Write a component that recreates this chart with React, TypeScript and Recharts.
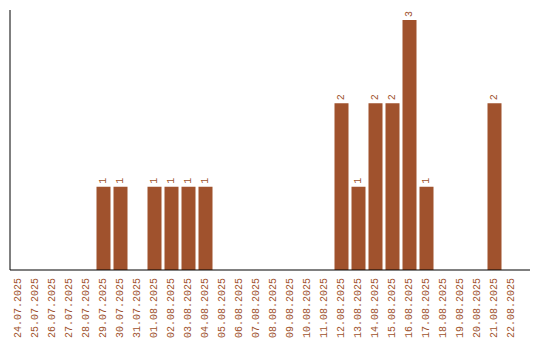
import { BarChart, Bar, XAxis, YAxis, LabelList } from 'recharts';

const dates = [
  '24.07.2025', '25.07.2025', '26.07.2025', '27.07.2025', '28.07.2025', '29.07.2025',
  '30.07.2025', '31.07.2025', '01.08.2025', '02.08.2025', '03.08.2025', '04.08.2025',
  '05.08.2025', '06.08.2025', '07.08.2025', '08.08.2025', '09.08.2025', '10.08.2025',
  '11.08.2025', '12.08.2025', '13.08.2025', '14.08.2025', '15.08.2025', '16.08.2025',
  '17.08.2025', '18.08.2025', '19.08.2025', '20.08.2025', '21.08.2025', '22.08.2025',
];
const counts = [
  0, 0, 0, 0, 0, 1,
  1, 0, 1, 1, 1, 1,
  0, 0, 0, 0, 0, 0,
  0, 2, 1, 2, 2, 3,
  1, 0, 0, 0, 2, 0,
];

const data = dates.map((date, i) => ({ date, count: counts[i] }));

const color = '#a0522d';
const font = 'Liberation Mono';

const DateTick = ({ x, y, payload }: any) => (
  <text
    x={x}
    y={y}
    transform={`rotate(-90, ${x}, ${y})`}
    textAnchor="end"
    dominantBaseline="central"
    fill={color}
    fontSize={10}
    fontFamily={font}
  >
    {payload.value}
  </text>
);

const ValueLabel = ({ x, y, width, value }: any) => {
  if (!value) return null;
  const cx = x + width / 2;
  const cy = y - 3;
  return (
    <text
      x={cx}
      y={cy}
      transform={`rotate(-90, ${cx}, ${cy})`}
      textAnchor="start"
      dominantBaseline="central"
      fill={color}
      fontSize={10}
      fontFamily={font}
    >
      {value}
    </text>
  );
};

export default function App() {
  return (
    <div style={{ position: 'absolute', left: 0, top: 0, background: '#fff' }}>
      <BarChart
        width={540}
        height={340}
        data={data}
        margin={{ top: 10, right: 10, left: 9, bottom: 0 }}
        barCategoryGap={1.5}
      >
        <XAxis
          dataKey="date"
          interval={0}
          height={70}
          tick={<DateTick />}
          tickLine={false}
          axisLine={{ stroke: '#000' }}
          padding={{ left: 0, right: 10 }}
        />
        <YAxis
          width={1}
          tick={false}
          tickLine={false}
          axisLine={{ stroke: '#000' }}
          domain={[0, 3]}
          padding={{ top: 10, bottom: 0 }}
        />
        <Bar dataKey="count" fill={color} isAnimationActive={false}>
          <LabelList dataKey="count" content={<ValueLabel />} />
        </Bar>
      </BarChart>
    </div>
  );
}
